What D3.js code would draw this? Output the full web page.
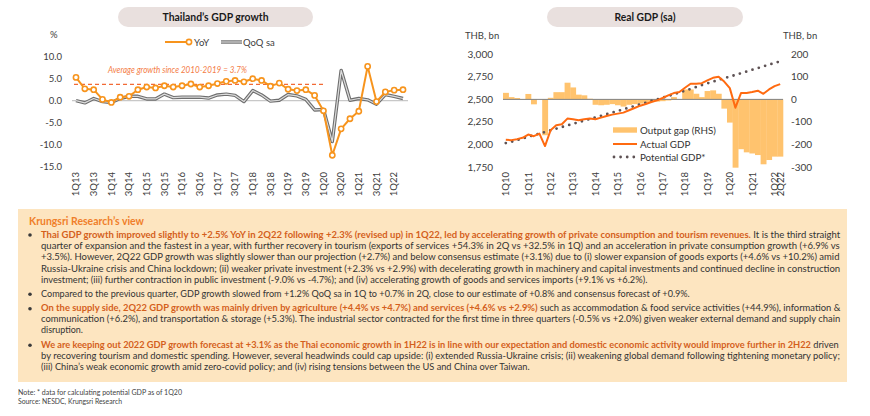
<!DOCTYPE html>
<html>
<head>
<meta charset="utf-8">
<script src="https://cdn.jsdelivr.net/npm/d3@7"></script>
<style>
  body { margin: 0; background: #fff; }
  svg { display: block; font-family: Lato, "Open Sans", sans-serif; }
</style>
</head>
<body>
<svg id="chart" width="870" height="416"></svg>
<script>
// ---------- data : left chart (GDP growth, %) ----------
var quartersL = ["1Q13","2Q13","3Q13","4Q13","1Q14","2Q14","3Q14","4Q14","1Q15","2Q15","3Q15","4Q15",
  "1Q16","2Q16","3Q16","4Q16","1Q17","2Q17","3Q17","4Q17","1Q18","2Q18","3Q18","4Q18",
  "1Q19","2Q19","3Q19","4Q19","1Q20","2Q20","3Q20","4Q20","1Q21","2Q21","3Q21","4Q21","1Q22","2Q22"];
var yoy = [5.3, 2.7, 2.5, 0.3,  -0.4, 0.8, 1.0, 2.5,  3.1, 2.9, 3.4, 3.1,  3.4, 3.8, 3.1, 3.4,
  3.9, 4.4, 4.6, 4.3,  5.0, 4.6, 3.3, 4.0,  2.6, 2.3, 2.5, 1.2,  -2.3, -12.4, -6.4, -4.1,
  -2.4, 7.8, -0.2, 2.0,  2.4, 2.5];
var qoq = [0.0, -0.5, 0.5, -0.2,  -0.4, 0.5, 1.0, 1.0,  0.4, 0.4, 1.5, 0.7,  0.8, 0.8, 0.8, 0.6,
  1.3, 1.5, 1.2, -0.2,  2.3, 1.3, -0.1, 0.1,  1.4, 1.1, 0.3, -2.1,  -2.0, -9.3, 6.9, 0.1,
  0.5, 0.2, -0.8, 1.4,  1.0, 0.5];
var avgGrowth = 3.7;
var yTicksL = [10, 5, 0, -5, -10, -15];
var xLabelsL = quartersL.filter(function(q, i) { return i % 2 === 0; });

// ---------- data : right chart (Real GDP sa, THB bn) ----------
var quartersR = ["1Q10","2Q10","3Q10","4Q10","1Q11","2Q11","3Q11","4Q11","1Q12","2Q12","3Q12","4Q12",
  "1Q13","2Q13","3Q13","4Q13","1Q14","2Q14","3Q14","4Q14","1Q15","2Q15","3Q15","4Q15",
  "1Q16","2Q16","3Q16","4Q16","1Q17","2Q17","3Q17","4Q17","1Q18","2Q18","3Q18","4Q18",
  "1Q19","2Q19","3Q19","4Q19","1Q20","2Q20","3Q20","4Q20","1Q21","2Q21","3Q21","4Q21","1Q22","2Q22"];
var outputGap = [29, 10, 6, -1,  24, -22, 0, -159,  7, 32, 32, 74,  53, 21, 18, 3,
  -24, -26, -24, -21,  -26, -32, -24, -21,  -19, -15, -12, -10,  -8, -5, 10, -1,
  44, 44, 25, 10,  37, 40, 25, -41,  -103, -303, -221, -235,  -240, -247, -288, -269,  -254, -254];
var actualGdp = [2052, 2048, 2059, 2074,  2110, 2092, 2121, 1982,  2158, 2213, 2224, 2287,
  2279, 2268, 2279, 2287,  2279, 2298, 2316, 2331,  2342, 2353, 2379, 2404,
  2430, 2449, 2471, 2489,  2515, 2544, 2570, 2581,  2629, 2673, 2673, 2680,
  2710, 2739, 2750, 2698,  2625, 2408, 2570, 2570,  2581, 2596, 2562, 2610,  2647, 2669];
var potentialGdp = [2015, 2030, 2048, 2066,  2085, 2103, 2120, 2138,  2157, 2175, 2193, 2211,
  2229, 2247, 2265, 2283,  2300, 2318, 2336, 2354,  2372, 2390, 2408, 2426,
  2445, 2463, 2482, 2500,  2519, 2538, 2557, 2576,  2596, 2616, 2637, 2658,
  2678, 2697, 2716, 2735,  2753, 2771, 2790, 2809,  2828, 2847, 2866, 2885,  2904, 2922];
var yTicksR1 = [3000, 2750, 2500, 2250, 2000, 1750];
var yTicksR2 = [200, 100, 0, -100, -200, -300];
var xLabelsR = ["1Q10","1Q11","1Q12","1Q13","1Q14","1Q15","1Q16","1Q17","1Q18","1Q19","1Q20","1Q21","1Q22","2Q22"];

var orange = "#f7941d";
var gapFill = "#ffc36e";
var axisText = "#404040";

var fmt = d3.formatLocale({decimal: ".", thousands: ",", grouping: [3], currency: ["", ""], minus: "-"}).format(",");

var svg = d3.select("#chart");

// title pills
function pill(x, w, label, tl) {
  svg.append("rect")
    .attr("x", x).attr("y", 7).attr("width", w).attr("height", 20)
    .attr("rx", 10).attr("fill", "#e9e0de");
  svg.append("text")
    .attr("x", x + w / 2).attr("y", 21)
    .attr("text-anchor", "middle")
    .attr("font-size", 11).attr("font-weight", "bold").attr("fill", "#1a1a1a")
    .attr("textLength", tl).attr("lengthAdjust", "spacingAndGlyphs")
    .text(label);
}
pill(118, 195, "Thailand\u2019s GDP growth", 106);
pill(547, 196, "Real GDP (sa)", 61);

///////////////////////////
// left chart
var xL = d3.scalePoint().domain(quartersL).range([76, 403]);
var yL = d3.scaleLinear().domain([-15, 10]).range([166.7, 56.7]);
var left = svg.append("g");

left.append("text").attr("x", 50).attr("y", 38)
  .attr("font-size", 9.5).attr("fill", axisText).text("%");

left.selectAll(".ytl").data(yTicksL).enter().append("text")
  .attr("x", 62).attr("y", d => yL(d)).attr("dy", "0.35em")
  .attr("text-anchor", "end").attr("font-size", 9.5).attr("fill", axisText)
  .text(d => d.toFixed(1));

left.append("line")
  .attr("x1", 72).attr("x2", 408).attr("y1", yL(0)).attr("y2", yL(0))
  .attr("stroke", "#c8c8c8").attr("stroke-width", 1.2);

left.selectAll(".xtl").data(xLabelsL).enter().append("text")
  .attr("transform", d => `translate(${xL(d)},172) rotate(-90)`)
  .attr("dy", "0.35em").attr("text-anchor", "end")
  .attr("font-size", 9.5).attr("fill", axisText)
  .text(d => d);

// average line
left.append("line")
  .attr("x1", xL(quartersL[0]) - 2).attr("x2", xL("1Q20"))
  .attr("y1", yL(avgGrowth)).attr("y2", yL(avgGrowth))
  .attr("stroke", "#f26a35").attr("stroke-width", 1.3).attr("stroke-dasharray", "4,3");
left.append("text")
  .attr("x", 108).attr("y", 73)
  .attr("font-size", 9).attr("font-style", "italic").attr("fill", "#f47c45")
  .attr("textLength", 139).attr("lengthAdjust", "spacingAndGlyphs")
  .text("Average growth since 2010-2019 = 3.7%");

var lineL = d3.line().x((d, i) => xL(quartersL[i])).y(d => yL(d));

// QoQ sa : double grey line
left.append("path").datum(qoq).attr("d", lineL)
  .attr("fill", "none").attr("stroke", "#6e6e6e").attr("stroke-width", 3.4).attr("stroke-linejoin", "round");
left.append("path").datum(qoq).attr("d", lineL)
  .attr("fill", "none").attr("stroke", "#dcdcdc").attr("stroke-width", 1.2).attr("stroke-linejoin", "round");

// YoY
left.append("path").datum(yoy).attr("d", lineL)
  .attr("fill", "none").attr("stroke", orange).attr("stroke-width", 2).attr("stroke-linejoin", "round");
left.selectAll(".pt").data(yoy).enter().append("circle")
  .attr("cx", (d, i) => xL(quartersL[i])).attr("cy", d => yL(d))
  .attr("r", 2.6).attr("fill", "#fff").attr("stroke", orange).attr("stroke-width", 1.6);

// legend
left.append("line").attr("x1", 165).attr("x2", 192).attr("y1", 42).attr("y2", 42)
  .attr("stroke", orange).attr("stroke-width", 2);
left.append("circle").attr("cx", 189).attr("cy", 42).attr("r", 2.6)
  .attr("fill", "#fff").attr("stroke", orange).attr("stroke-width", 1.6);
left.append("text").attr("x", 194).attr("y", 45.5).attr("font-size", 9.5).attr("fill", axisText).text("YoY");
left.append("line").attr("x1", 221).attr("x2", 242).attr("y1", 42).attr("y2", 42)
  .attr("stroke", "#6e6e6e").attr("stroke-width", 3.4);
left.append("line").attr("x1", 221).attr("x2", 242).attr("y1", 42).attr("y2", 42)
  .attr("stroke", "#dcdcdc").attr("stroke-width", 1.2);
left.append("text").attr("x", 243).attr("y", 45.5).attr("font-size", 9.5).attr("fill", axisText).text("QoQ sa");

///////////////////////////
// right chart
var xR = d3.scaleBand().domain(quartersR).range([503, 783]).padding(0);
var yR1 = d3.scaleLinear().domain([1750, 3000]).range([167, 54.3]);
var yR2 = d3.scaleLinear().domain([-300, 200]).range([167, 54.3]);
var right = svg.append("g");

right.append("text").attr("x", 465).attr("y", 39).attr("font-size", 9.5).attr("fill", axisText).text("THB, bn");
right.append("text").attr("x", 783).attr("y", 39).attr("font-size", 9.5).attr("fill", axisText).text("THB, bn");

right.selectAll(".yl").data(yTicksR1).enter().append("text")
  .attr("x", 493).attr("y", d => yR1(d)).attr("dy", "0.35em")
  .attr("text-anchor", "end").attr("font-size", 10).attr("fill", axisText)
  .text(d => fmt(d));
right.selectAll(".yr").data(yTicksR2).enter().append("text")
  .attr("x", 791).attr("y", d => yR2(d)).attr("dy", "0.35em")
  .attr("font-size", 10).attr("fill", axisText)
  .text(d => fmt(d));

right.selectAll(".bar").data(outputGap).enter().append("rect")
  .attr("x", (d, i) => xR(quartersR[i]))
  .attr("width", xR.bandwidth() + 0.3)
  .attr("y", d => Math.min(yR2(d), yR2(0)))
  .attr("height", d => Math.abs(yR2(d) - yR2(0)))
  .attr("fill", gapFill);

right.append("line")
  .attr("x1", 503).attr("x2", 783).attr("y1", yR2(0)).attr("y2", yR2(0))
  .attr("stroke", "#808080").attr("stroke-width", 1);

right.selectAll(".xtr").data(xLabelsR).enter().append("text")
  .attr("transform", d => `translate(${xR(d) + xR.bandwidth() / 2},172) rotate(-90)`)
  .attr("dy", "0.35em").attr("text-anchor", "end")
  .attr("font-size", 9.5).attr("fill", axisText)
  .text(d => d);

var lineR = d3.line().x((d, i) => xR(quartersR[i]) + xR.bandwidth() / 2).y(d => yR1(d));

right.append("path").datum(potentialGdp).attr("d", lineR)
  .attr("fill", "none").attr("stroke", "#5e5254").attr("stroke-width", 2.8)
  .attr("stroke-linecap", "round").attr("stroke-dasharray", "0,6.6");
right.append("path").datum(actualGdp).attr("d", lineR)
  .attr("fill", "none").attr("stroke", "#ff6a10").attr("stroke-width", 2).attr("stroke-linejoin", "round");

// legend
right.append("rect").attr("x", 613).attr("y", 127.3).attr("width", 24).attr("height", 5.4).attr("fill", gapFill);
right.append("text").attr("x", 640).attr("y", 133.5).attr("font-size", 9.8).attr("fill", "#333").text("Output gap (RHS)");
right.append("line").attr("x1", 613).attr("x2", 637).attr("y1", 144).attr("y2", 144)
  .attr("stroke", "#ff6a10").attr("stroke-width", 2);
right.append("text").attr("x", 640).attr("y", 147.5).attr("font-size", 9.8).attr("fill", "#333").text("Actual GDP");
right.append("line").attr("x1", 614).attr("x2", 636).attr("y1", 157).attr("y2", 157)
  .attr("stroke", "#5e5254").attr("stroke-width", 2.8)
  .attr("stroke-linecap", "round").attr("stroke-dasharray", "0,6.6");
right.append("text").attr("x", 640).attr("y", 160.5).attr("font-size", 9.8).attr("fill", "#333").text("Potential GDP*");

///////////////////////////
// commentary box
var boldCol = "#d4601c";
var bodyCol = "#333333";
var box = svg.append("g");
box.append("rect").attr("x", 18).attr("y", 209).attr("width", 829).attr("height", 173).attr("fill", "#fde5c0");
box.append("text").attr("x", 29).attr("y", 224.5)
  .attr("font-size", 12).attr("font-weight", "bold").attr("fill", "#f07f2a")
  .attr("textLength", 115).attr("lengthAdjust", "spacingAndGlyphs")
  .text("Krungsri Research\u2019s view");

var bullets = [235, 294.3, 308.7, 345.3];
box.selectAll(".bul").data(bullets).enter().append("circle")
  .attr("cx", 30).attr("cy", d => d).attr("r", 1.8).attr("fill", "#3a3a3a");

var lines = [
  {y: 237.5, w: 799, segs: [["Thai GDP growth improved slightly to +2.5% YoY in 2Q22 following +2.3% (revised up) in 1Q22, led by accelerating growth of private consumption and tourism revenues.", 1], [" It is the third straight", 0]]},
  {y: 249, w: 799, segs: [["quarter of expansion and the fastest in a year, with further recovery in tourism (exports of services +54.3% in 2Q vs +32.5% in 1Q) and an acceleration in private consumption growth (+6.9% vs", 0]]},
  {y: 260.3, w: 799, segs: [["+3.5%). However, 2Q22 GDP growth was slightly slower than our projection (+2.7%) and below consensus estimate (+3.1%) due to (i) slower expansion of goods exports (+4.6% vs +10.2%) amid", 0]]},
  {y: 272.3, w: 799, segs: [["Russia-Ukraine crisis and China lockdown; (ii) weaker private investment (+2.3% vs +2.9%) with decelerating growth in machinery and capital investments and continued decline in construction", 0]]},
  {y: 283.2, w: 607, segs: [["investment; (iii) further contraction in public investment (-9.0% vs -4.7%); and (iv) accelerating growth of goods and services imports (+9.1% vs +6.2%).", 0]]},
  {y: 296.8, w: 649, segs: [["Compared to the previous quarter, GDP growth slowed from +1.2% QoQ sa in 1Q to +0.7% in 2Q, close to our estimate of +0.8% and consensus forecast of +0.9%.", 0]]},
  {y: 311.1, w: 799, segs: [["On the supply side, 2Q22 GDP growth was mainly driven by agriculture (+4.4% vs +4.7%) and services (+4.6% vs +2.9%)", 1], [" such as accommodation & food service activities (+44.9%), information &", 0]]},
  {y: 321.8, w: 799, segs: [["communication (+6.2%), and transportation & storage (+5.3%). The industrial sector contracted for the first time in three quarters (-0.5% vs +2.0%) given weaker external demand and supply chain", 0]]},
  {y: 333.1, w: 42, segs: [["disruption.", 0]]},
  {y: 347.8, w: 799, segs: [["We are keeping out 2022 GDP growth forecast at +3.1% as the Thai economic growth in 1H22 is in line with our expectation and domestic economic activity would improve further in 2H22", 1], [" driven", 0]]},
  {y: 359, w: 799, segs: [["by recovering tourism and domestic spending. However, several headwinds could cap upside: (i) extended Russia-Ukraine crisis; (ii) weakening global demand following tightening monetary policy;", 0]]},
  {y: 369.8, w: 489, segs: [["(iii) China\u2019s weak economic growth amid zero-covid policy; and (iv) rising tensions between the US and China over Taiwan.", 0]]}
];

lines.forEach(function(ln) {
  var g = box.append("g").attr("transform", `translate(41,${ln.y})`);
  var t = g.append("text").attr("x", 0).attr("y", 0)
    .attr("font-size", 9.6).style("white-space", "pre");
  ln.segs.forEach(function(s) {
    t.append("tspan").text(s[0])
      .attr("font-weight", s[1] ? "bold" : "normal")
      .attr("fill", s[1] ? boldCol : bodyCol);
  });
  var len = t.node().getComputedTextLength();
  g.attr("transform", `translate(41,${ln.y}) scale(${ln.w / len},1)`);
});

// notes
svg.append("text").attr("x", 18).attr("y", 394.5)
  .attr("font-size", 7.6).attr("fill", "#444")
  .attr("textLength", 164).attr("lengthAdjust", "spacingAndGlyphs")
  .text("Note: * data for calculating potential GDP as of 1Q20");
svg.append("text").attr("x", 18).attr("y", 404)
  .attr("font-size", 7.6).attr("fill", "#444")
  .attr("textLength", 104).attr("lengthAdjust", "spacingAndGlyphs")
  .text("Source: NESDC, Krungsri Research");
</script>
</body>
</html>
